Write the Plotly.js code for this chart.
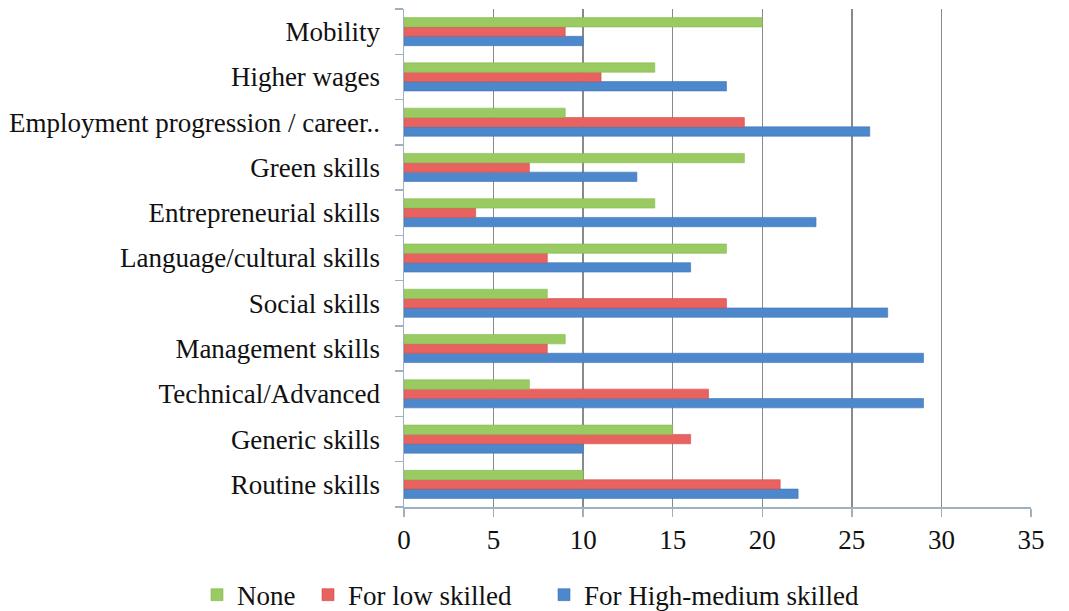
<!DOCTYPE html>
<html>
<head>
<meta charset="utf-8">
<script src="https://cdn.plot.ly/plotly-3.0.1.min.js"></script>
<style>html,body{margin:0;padding:0;background:#fff;}#chart{width:1069px;height:611px;}</style>
</head>
<body>
<div id="chart"></div>
<script>
// Categories listed bottom to top
const categories = [
  "Routine skills",
  "Generic skills",
  "Technical/Advanced",
  "Management skills",
  "Social skills",
  "Language/cultural skills",
  "Entrepreneurial skills",
  "Green skills",
  "Employment progression / career..",
  "Higher wages",
  "Mobility"
];
const noneValues     = [10, 15, 7, 9, 8, 18, 14, 19, 9, 14, 20];
const lowSkilled     = [21, 16, 17, 8, 18, 8, 4, 7, 19, 11, 9];
const highMedSkilled = [22, 10, 29, 29, 27, 16, 23, 13, 26, 18, 10];
const seriesNames = ["None", "For low skilled", "For High-medium skilled"];
const xTicks = [0, 5, 10, 15, 20, 25, 30, 35];

const fontFam = "Liberation Serif, DejaVu Serif, serif";

const traces = [
  {type: "bar", orientation: "h", name: seriesNames[2], y: categories, x: highMedSkilled,
   legend: "legend3",
   marker: {color: "#4d88cc", line: {color: "#3f74b3", width: 0.6}}},
  {type: "bar", orientation: "h", name: seriesNames[1], y: categories, x: lowSkilled,
   legend: "legend2",
   marker: {color: "#e8625f", line: {color: "#cf4f4d", width: 0.6}}},
  {type: "bar", orientation: "h", name: seriesNames[0], y: categories, x: noneValues,
   legend: "legend",
   marker: {color: "#9acb62", line: {color: "#84b850", width: 0.6}}}
];

function legendAt(xPx) {
  return {
    orientation: "h",
    xref: "container", yref: "container",
    x: xPx / 1069, xanchor: "left", y: 0.026, yanchor: "middle",
    bgcolor: "rgba(0,0,0,0)", borderwidth: 0,
    font: {family: fontFam, size: 27, color: "#111111"},
    itemwidth: 30
  };
}

const layout = {
  width: 1069, height: 611,
  paper_bgcolor: "#ffffff", plot_bgcolor: "#ffffff",
  margin: {l: 404, r: 38, t: 9, b: 104, pad: 0},
  barmode: "group",
  bargap: 0.38,
  bargroupgap: 0,
  font: {family: fontFam, size: 27, color: "#111111"},
  showlegend: true,
  legend: legendAt(197),
  legend2: legendAt(308),
  legend3: legendAt(544),
  xaxis: {
    range: [0, 35], tickvals: xTicks, ticktext: xTicks.map(String),
    showgrid: true, gridcolor: "#8a8a8a", gridwidth: 1.5,
    showline: true, linecolor: "#9fb0c0", linewidth: 1.5,
    ticks: "outside", ticklen: 8, tickcolor: "#9fb0c0", tickwidth: 1.5,
    ticklabelstandoff: 0,
    zeroline: false, fixedrange: true,
    tickfont: {family: fontFam, size: 27, color: "#111111"}
  },
  yaxis: {
    type: "category", categoryorder: "array", categoryarray: categories,
    showgrid: false, showline: true, linecolor: "#9fb0c0", linewidth: 1.5,
    ticks: "outside", ticklen: 8, tickcolor: "#9fb0c0", tickwidth: 1.5,
    tickson: "boundaries",
    ticklabelstandoff: 17,
    fixedrange: true,
    tickfont: {family: fontFam, size: 27, color: "#111111"}
  }
};

Plotly.newPlot("chart", traces, layout, {displayModeBar: false, staticPlot: true});
</script>
</body>
</html>
